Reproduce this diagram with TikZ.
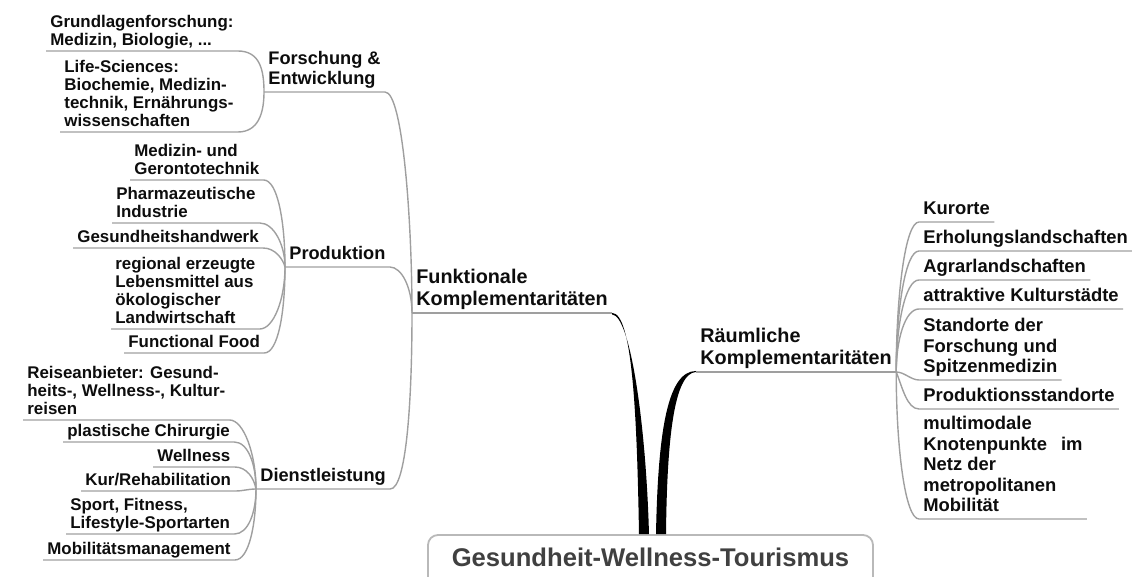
\documentclass[tikz,border=0pt]{standalone}
\usepackage{fontspec}
\setmainfont{Liberation Sans}
\usetikzlibrary{calc}

\begin{document}
\begin{tikzpicture}
[x=0.5pt, y=-0.5pt,
conn/.style={draw=gray!75, line width=0.7pt},
mmnode/.style={
  inner xsep=2pt, inner ysep=0pt, anchor=south west,
  align=left, text=black!95,
  execute at end node=\strut
  }
]

\tikzstyle{leafl}  =  [mmnode, font=\bfseries\fontsize{8.45}{9}\selectfont]
\tikzstyle{leafr}  =  [mmnode, inner ysep=0.4pt, font=\bfseries\fontsize{9.2}{10.25}\selectfont]
\tikzstyle{subnode}  =  [mmnode, inner ysep=0.5pt, font=\bfseries\fontsize{9.1}{10}\selectfont]
\tikzstyle{mainnode}  =  [mmnode, font=\bfseries\fontsize{9.9}{11.25}\selectfont]
\tikzstyle{rootnode}  =  [draw=gray!55, line width=0.9pt, rounded corners=5pt, fill=white,
  anchor=base, inner sep=0pt, minimum width=222.5pt, text height=16pt, text depth=10pt,
  text=black!75, font=\bfseries\fontsize{12.8}{14}\selectfont]

\useasboundingbox (0,0) rectangle (1132,577);
\clip (0,0) rectangle (1132,577);

\node[rootnode] (root) at (650.5,567) {Gesundheit-Wellness-Tourismus};

\node[mainnode] (funk) at (412,313) {Funktionale\\Komplementaritäten};
\node[mainnode] (raum) at (696,372) {Räumliche\\Komplementaritäten};

% left side
\node[subnode] (fue) at (264,92) {Forschung \&\\Entwicklung};
\node[subnode] (prod) at (285,267) {Produktion};
\node[subnode] (dienst) at (256,489) {Dienstleistung};

\node[leafl] (grund) at (46,51) {Grundlagenforschung:\\Medizin, Biologie, ...};
\node[leafl] (life) at (60,132) {Life-Sciences:\\Biochemie, Medizin-\\technik, Ernährungs-\\wissenschaften};

\node[leafl] (medtech) at (130,180) {Medizin- und\\Gerontotechnik};
\node[leafl] (pharma) at (112,223) {Pharmazeutische\\Industrie};
\node[leafl] (handw) at (73,248) {Gesundheitshandwerk};
\node[leafl] (regio) at (111,329) {regional erzeugte\\Lebensmittel aus\\ökologischer\\Landwirtschaft};
\node[leafl] (ffood) at (124,353) {Functional Food};

\node[leafl] (reise) at (23,420) {Reiseanbieter: Gesund-\\heits-, Wellness-, Kultur-\\reisen};
\node[leafl] (plast) at (63,442) {plastische Chirurgie};
\node[leafl] (well) at (153,467) {Wellness};
\node[leafl] (kur) at (81,491) {Kur/Rehabilitation};
\node[leafl] (sport) at (66,534) {Sport, Fitness,\\Lifestyle-Sportarten};
\node[leafl] (mobil) at (43,560) {Mobilitätsmanagement};

% right side
\node[leafr] (kurort) at (919,222) {Kurorte};
\node[leafr] (erhol) at (919,251) {Erholungslandschaften};
\node[leafr] (agrar) at (919,280) {Agrarlandschaften};
\node[leafr] (kultur) at (919,309) {attraktive Kulturstädte};
\node[leafr] (stand) at (919,380) {Standorte der\\Forschung und\\Spitzenmedizin};
\node[leafr] (prodst) at (919,409) {Produktionsstandorte};
\node[leafr] (multi) at (919,519) {multimodale\\Knotenpunkte\hspace{7pt}im\\Netz der\\metropolitanen\\Mobilität};

%edges

\fill[black] (funk.south east) .. controls +(20,0) and +(-2,-120) .. ($(root.north)+(-11.5,0)$)
  -- ++(10,0) .. controls +(-3,-110) and +(18,1) .. ($(funk.south east)+(0,1.5)$) -- cycle;
\fill[black] ($(root.north)+(5.5,0)$) .. controls +(2,-105) and +(-28,0) .. ($(raum.south west)+(0,-1)$)
  -- (raum.south west) .. controls +(-22,1) and +(1,-95) .. ($(root.north)+(15.5,0)$) -- cycle;

\draw[conn] (funk.south west) -- (funk.south east);
\draw[conn] (raum.south west) -- (raum.south east);

\draw[conn] (fue.south west) -- (fue.south east) .. controls +(18,0) and +(0,-90) .. (funk.south west);
\draw[conn] (prod.south west) -- (prod.south east) .. controls +(12,0) and +(0,-25) .. (funk.south west);
\draw[conn] (dienst.south west) -- (dienst.south east) .. controls +(16,0) and +(0,90) .. (funk.south west);

\draw[conn] (grund.south west) -- (grund.south east) .. controls +(22,0) and +(0,-22) .. (fue.south west);
\draw[conn] (life.south west) -- (life.south east) .. controls +(20,0) and +(0,22) .. (fue.south west);

\draw[conn] (medtech.south west) -- (medtech.south east) .. controls +(14,0) and +(0,-45) .. (prod.south west);
\draw[conn] (pharma.south west) -- (pharma.south east) .. controls +(14,0) and +(0,-22) .. (prod.south west);
\draw[conn] (handw.south west) -- (handw.south east) .. controls +(12,0) and +(-2,-8) .. (prod.south west);
\draw[conn] (regio.south west) -- (regio.south east) .. controls +(14,0) and +(0,32) .. (prod.south west);
\draw[conn] (ffood.south west) -- (ffood.south east) .. controls +(14,0) and +(0,45) .. (prod.south west);

\draw[conn] (reise.south west) -- (reise.south east) .. controls +(14,0) and +(0,-35) .. (dienst.south west);
\draw[conn] (plast.south west) -- (plast.south east) .. controls +(14,0) and +(0,-24) .. (dienst.south west);
\draw[conn] (well.south west) -- (well.south east) .. controls +(12,0) and +(-2,-11) .. (dienst.south west);
\draw[conn] (kur.south west) -- (kur.south east) .. controls +(8,0) and +(-8,0) .. (dienst.south west);
\draw[conn] (sport.south west) -- (sport.south east) .. controls +(14,0) and +(0,23) .. (dienst.south west);
\draw[conn] (mobil.south west) -- (mobil.south east) .. controls +(14,0) and +(0,36) .. (dienst.south west);

\draw[conn] (kurort.south east) -- (kurort.south west) .. controls +(-14,0) and +(0,-75) .. (raum.south east);
\draw[conn] (erhol.south east) -- (erhol.south west) .. controls +(-14,0) and +(0,-60) .. (raum.south east);
\draw[conn] (agrar.south east) -- (agrar.south west) .. controls +(-14,0) and +(0,-46) .. (raum.south east);
\draw[conn] (kultur.south east) -- (kultur.south west) .. controls +(-14,0) and +(0,-32) .. (raum.south east);
\draw[conn] (stand.south east) -- (stand.south west) .. controls +(-8,0) and +(8,0) .. (raum.south east);
\draw[conn] (prodst.south east) -- (prodst.south west) .. controls +(-12,0) and +(6,15) .. (raum.south east);
\draw[conn] (multi.south east) -- (multi.south west) .. controls +(-14,0) and +(0,75) .. (raum.south east);

\end{tikzpicture}
\end{document}
